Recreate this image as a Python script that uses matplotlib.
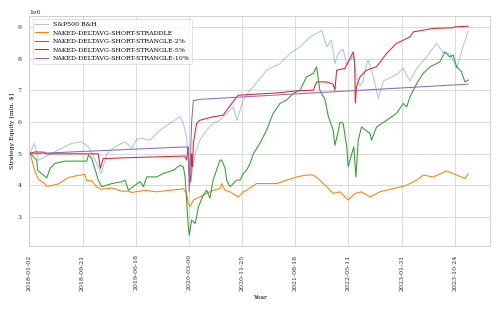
import numpy as np
import matplotlib
matplotlib.use("Agg")
import matplotlib.pyplot as plt

# row index of trading days (0 = 2018-01-02) and equity in mln $
spx_x = [0, 2, 17, 30, 53, 98, 143, 177, 200, 228, 243, 262, 290, 324, 346, 363, 375,
         408, 442, 476, 510, 521, 532, 541, 544, 561, 577, 600, 622, 645, 668, 690, 702,
         724, 747, 758, 803, 848, 882, 916, 950, 972, 990, 1006, 1023, 1034, 1045, 1062,
         1074, 1096, 1107, 1119, 1130, 1141, 1147, 1164, 1181, 1198, 1220, 1243, 1265,
         1288, 1311, 1344, 1378, 1400, 1423, 1446, 1468, 1485]
spx_y = [5.0, 5.02, 5.33, 4.8, 4.9, 5.12, 5.33, 5.38, 5.22, 4.7, 4.38, 5.0, 5.22, 5.38, 5.17,
         5.45, 5.5, 5.43, 5.75, 5.96, 6.17, 5.96, 5.54, 4.38, 4.07, 5.0, 5.43, 5.75, 5.96,
         6.06, 6.28, 6.48, 6.06, 6.7, 7.01, 7.12, 7.64, 7.85, 8.17, 8.38, 8.69, 8.8, 8.9,
         8.38, 8.59, 7.85, 8.17, 8.3, 7.8, 8.1, 7.43, 7.15, 7.3, 7.85, 7.96, 7.43, 6.75,
         7.3, 7.4, 7.5, 7.7, 7.3, 7.7, 8.06, 8.49, 8.2, 8.17, 7.7, 8.4, 8.87]

straddle_x = [0, 2, 19, 30, 53, 59, 76, 98, 132, 155, 188, 194, 211, 228, 245, 279, 313,
              335, 346, 375, 386, 431, 476, 510, 521, 532, 538, 544, 555, 577, 600, 622,
              645, 651, 662, 679, 707, 724, 735, 769, 803, 837, 871, 905, 938, 961, 983,
              1006, 1028, 1051, 1079, 1102, 1124, 1153, 1186, 1231, 1277, 1311, 1333, 1367,
              1412, 1446, 1474, 1485]
straddle_y = [5.0, 5.02, 4.45, 4.2, 4.05, 3.97, 4.0, 4.05, 4.25, 4.3, 4.35, 4.15, 4.15,
              3.95, 3.88, 3.92, 3.82, 3.82, 3.78, 3.82, 3.85, 3.8, 3.85, 3.88, 3.9, 3.75,
              3.43, 3.33, 3.54, 3.64, 3.75, 3.85, 3.9, 4.06, 3.85, 3.8, 3.64, 3.8, 3.85,
              4.06, 4.06, 4.06, 4.17, 4.27, 4.33, 4.33, 4.17, 3.96, 3.75, 3.8, 3.54, 3.75,
              3.8, 3.64, 3.8, 3.9, 4.01, 4.17, 4.33, 4.27, 4.46, 4.33, 4.22, 4.36]

str2_x = [0, 2, 25, 28, 47, 59, 70, 87, 121, 194, 200, 211, 225, 233, 245, 279, 313, 324,
          335, 358, 375, 386, 397, 431, 453, 487, 510, 521, 527, 532, 538, 541, 549, 561,
          566, 572, 589, 600, 611, 622, 634, 645, 651, 662, 668, 679, 690, 702, 713, 724,
          735, 747, 758, 780, 803, 825, 848, 871, 893, 916, 927, 938, 961, 972, 983, 1001,
          1012, 1028, 1034, 1045, 1051, 1062, 1074, 1079, 1091, 1098, 1105, 1113, 1124,
          1153, 1158, 1175, 1209, 1243, 1265, 1277, 1288, 1311, 1333, 1356, 1389, 1406,
          1423, 1434, 1446, 1462, 1474, 1485]
str2_y = [5.0, 5.02, 4.8, 4.48, 4.33, 4.24, 4.54, 4.7, 4.77, 4.77, 4.96, 4.85, 4.43, 4.17,
          3.96, 4.06, 4.12, 4.17, 3.85, 4.01, 4.12, 3.96, 4.27, 4.27, 4.38, 4.48, 4.64,
          4.59, 4.27, 3.54, 2.69, 2.43, 2.91, 2.8, 3.01, 3.33, 3.7, 3.85, 3.6, 4.17, 4.5,
          4.8, 4.8, 4.55, 4.17, 3.96, 4.06, 4.17, 4.17, 4.38, 4.48, 4.7, 5.0, 5.33, 5.75,
          6.28, 6.59, 6.7, 6.91, 7.01, 7.22, 7.43, 7.54, 7.75, 7.01, 6.7, 6.17, 5.75, 5.27,
          5.7, 6.0, 5.96, 5.22, 4.59, 5.0, 5.22, 4.27, 5.43, 5.85, 5.64, 5.43, 5.85, 6.06,
          6.28, 6.59, 6.48, 6.8, 7.22, 7.54, 7.75, 7.9, 8.22, 8.06, 8.12, 7.75, 7.6, 7.27,
          7.33]

str5_x = [0, 2, 20, 53, 55, 233, 240, 250, 375, 527, 532, 538, 541, 546, 549, 552, 555,
          566, 577, 622, 656, 668, 702, 707, 848, 905, 961, 972, 1006, 1028, 1034, 1040,
          1068, 1085, 1096, 1101, 1103, 1107, 1119, 1141, 1175, 1209, 1243, 1288, 1299,
          1367, 1434, 1440, 1485]
str5_y = [5.0, 5.02, 5.06, 5.05, 5.0, 5.0, 4.54, 4.85, 4.89, 4.93, 4.8, 5.22, 4.4, 4.12,
          5.0, 4.59, 5.33, 5.96, 6.06, 6.17, 6.22, 6.38, 6.8, 6.85, 6.93, 6.99, 7.01, 7.27,
          7.27, 7.2, 7.01, 7.64, 7.7, 8.01, 8.22, 7.9, 6.6, 7.12, 7.43, 7.64, 7.75, 8.17,
          8.49, 8.69, 8.85, 8.96, 8.98, 9.01, 9.03]

str10_x = [0, 532, 538, 541, 544, 549, 555, 577, 1485]
str10_y = [5.0, 5.22, 5.1, 3.8, 4.5, 6.0, 6.68, 6.72, 7.2]

tick_pos = [0, 180, 360, 540, 720, 900, 1080, 1260, 1440]
tick_labels = ["2018-01-02", "2018-09-21", "2019-06-18", "2020-03-06", "2020-11-25",
               "2021-08-18", "2022-05-11", "2023-01-31", "2023-10-24"]

plt.rcParams["font.family"] = "DejaVu Serif"
plt.rcParams["font.size"] = 9

fig = plt.figure(figsize=(9.96, 6.18), dpi=50)
ax = fig.add_axes([0.059, 0.204, 0.925, 0.744])

scale = 1e6
ax.plot(spx_x, np.array(spx_y) * scale, color="tab:blue", alpha=0.4, lw=1.5, label="S&P500 B&H")
ax.plot(straddle_x, np.array(straddle_y) * scale, color="tab:orange", lw=1.5,
        label="NAKED-DELTAVG-SHORT-STRADDLE")
ax.plot(str2_x, np.array(str2_y) * scale, color="tab:green", lw=1.5,
        label="NAKED-DELTAVG-SHORT-STRANGLE-2%")
ax.plot(str5_x, np.array(str5_y) * scale, color="tab:red", lw=1.5,
        label="NAKED-DELTAVG-SHORT-STRANGLE-5%")
ax.plot(str10_x, np.array(str10_y) * scale, color="tab:purple", lw=1.5,
        label="NAKED-DELTAVG-SHORT-STRANGLE-10%")

ax.set_xlim(0, 1559)
ax.set_ylim(2.09e6, 9.35e6)
ax.set_yticks(np.arange(3, 10) * scale)
ax.set_xticks(tick_pos)
ax.set_xticklabels(tick_labels, rotation=90)

ax.grid(True, color="0.8", lw=1.0)
ax.set_axisbelow(True)
for s in ax.spines.values():
    s.set_color("0.8")
    s.set_linewidth(1.25)
ax.tick_params(length=0, labelsize=9, colors="0.15")
ax.tick_params(axis="y", pad=11)
ax.tick_params(axis="x", pad=12)
ax.yaxis.get_offset_text().set_fontsize(9)

ax.set_xlabel("Year", fontsize=9, labelpad=6)
ax.set_ylabel("Strategy Equity [mln. $]", fontsize=9, labelpad=4)

ax.legend(loc="upper left", fontsize=9, frameon=True, edgecolor="0.8", framealpha=0.8)

fig.savefig("out.png", dpi=50)
